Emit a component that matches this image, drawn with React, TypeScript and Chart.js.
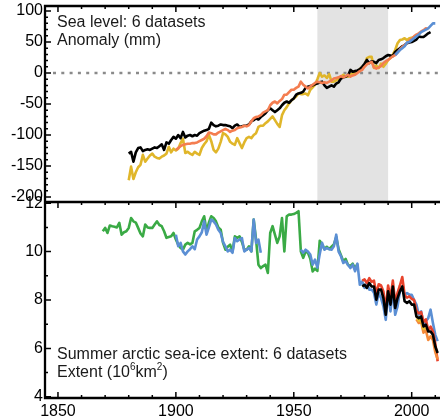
import React, { useEffect, useRef } from 'react';
import { Chart, registerables } from 'chart.js';

Chart.register(...registerables);

// ---------------- data ----------------
const yearTicks = [1850, 1900, 1950, 2000];
const seaLevelTicks = [-200, -150, -100, -50, 0, 50, 100];
const iceTicks = [4, 6, 8, 10, 12];
const referencePeriod = [1960, 1990];

const seaTitle = 'Sea level: 6 datasets';
const seaUnit = 'Anomaly (mm)';
const iceTitle = 'Summer arctic sea-ice extent: 6 datasets';
const iceUnitParts = [
  { t: 'Extent (10', sup: false },
  { t: '6', sup: true },
  { t: 'km', sup: false },
  { t: '2', sup: true },
  { t: ')', sup: false },
];

const seaBlackStart = 1880;
const seaBlack = [
  -130, -127, -143, -128, -121, -120, -126, -124, -123, -124,
  -122, -120, -121, -118, -115, -124, -112, -114, -108, -103,
  -106, -100, -105, -95, -104, -101, -100, -102, -100, -101,
  -97, -95, -93, -92, -90, -80, -84, -86, -85, -83,
  -84, -84, -85, -86, -89, -85, -83, -87, -86, -85,
  -85, -83, -78, -76, -73, -75, -71, -68, -65, -60,
  -57, -60, -63, -60, -57, -52, -48, -46, -48, -44,
  -41, -35, -33, -32, -30, -24, -22, -21, -20, -18,
  -17, -15, -14, -20, -24, -22, -20, -22, -17, -15,
  -9, -7, -6, -4, 5, 2, 3, 4, 6, 10,
  15, 21, 16, 19, 18, 16, 21, 22, 24, 27,
  29, 28, 27, 34, 37, 40, 43, 45, 48, 49,
  50, 52, 54, 59, 58, 58, 61, 64, 66,
];

const seaYellowStart = 1880;
const seaYellow = [
  -173, -151, -171, -160, -152, -148, -132, -143, -138, -133,
  -130, -135, -137, -138, -135, -133, -130, -119, -128, -122,
  -125, -122, -113, -106, -129, -127, -130, -132, -127, -130,
  -132, -121, -115, -110, -100, -110, -124, -128, -122, -111,
  -97, -99, -103, -111, -114, -116, -105, -113, -121, -112,
  -105, -103, -105, -100, -97, -87, -85, -85, -81, -78,
  -74, -70, -76, -82, -87, -68, -60, -55, -49, -44,
  -41, -38, -33, -34, -34, -33, -36, -27, -23, -19,
  -10, 0, -6, -4, -8, -2, -14, -14, -12, -9,
  -6, -3, -6, -6, -3, 0, 0, 2, 6, 10,
  12, 24, 26, 26, 8, 12, 8, 15, 10, 15,
  21, 24, 30, 37, 48, 53, 54, 56, 53, 56,
  57, 58,
];

const seaOrangeStart = 1900;
const seaOrange = [
  -124, -121, -118, -116, -115, -114, -114, -113, -113, -112,
  -110, -108, -106, -102, -96, -97, -99, -99, -96, -94,
  -92, -90, -92, -95, -93, -92, -89, -88, -87, -85,
  -86, -84, -78, -73, -71, -70, -68, -64, -62, -60,
  -52, -48, -46, -49, -45, -42, -35, -35, -31, -27,
  -27, -24, -22, -14, -19, -22, -25, -22, -19, -16,
  -14, -15, -16, -15, -16, -14, -12, -9, -8, -7,
  -5, -7, -5, -3, -6, -4, -3, 0, 3, 5,
  10, 14, 16, 18, 9, 7, 9, 11, 16, 19,
  21, 24, 27, 29, 33, 38, 42, 45, 48, 52,
  55, 59, 62, 64, 67, 69, 72, 71,
];

const seaBlueStart = 1993;
const seaBlue = [29, 33, 37, 40, 43, 49, 50, 53, 56, 59, 62, 66, 68, 70, 72, 76, 80, 80];

const iceGreenStart = 1869;
const iceGreen = [
  10.84, 10.98, 10.77, 11.08, 11.05, 11.03, 11.0, 11.19, 10.7, 10.8,
  10.84, 10.98, 11.39, 11.25, 11.2, 10.98, 10.75, 10.63, 11.12, 11.0,
  10.98, 10.98, 11.12, 11.25, 11.1, 11.05, 10.84, 10.57, 10.6, 10.63,
  10.77, 10.5, 10.29, 10.15, 10.08, 10.29, 10.36, 10.3, 10.36, 10.84,
  10.9, 10.98, 11.25, 11.46, 10.84, 11.2, 11.46, 11.39, 11.25, 11.0,
  10.91, 10.36, 10.08, 10.2, 10.29, 10.0, 10.63, 10.57, 10.63, 10.4,
  10.08, 10.08, 10.22, 10.01, 11.32, 10.5, 9.46, 9.32, 9.4, 9.46,
  9.12, 10.77, 11.05, 10.7, 10.36, 10.63, 11.39, 10.01, 11.46, 11.53,
  11.53, 11.55, 11.6, 11.67, 10.0, 9.74, 10.0, 9.95, 9.7, 9.18,
  9.3, 9.2, 10.45, 10.3, 10.1, 10.2, 10.1, 10.2, 10.3, 10.6,
  10.1, 9.85, 9.6, 9.7, 9.45, 9.4, 9.5, 9.3, 9.5,
];

const iceBlueStart = 1900;
const iceBlue = [
  10.7, 10.22, 10.36, 10.01, 9.88, 10.01, 10.1, 10.22, 10.1, 10.5,
  10.63, 10.8, 11.25, 10.7, 11.0, 11.32, 11.25, 11.12, 10.9, 10.77,
  10.4, 10.22, 10.01, 10.08, 9.95, 10.56, 10.43, 10.5, 10.56, 10.01,
  10.08, 10.15, 10.01, 11.32, 10.36, 10.5, 9.95,
  null, null, null, null, null, null, null, null, null, null, null, null, null, null, null, null,
  10.08, 9.95, 10.08, 10.0, 9.88, 9.46, 9.67, 9.34, 9.9, 10.36,
  10.08, 10.15, 10.1, 10.08, 10.22, 10.7, 10.0, 9.81, 9.53, 9.6,
  9.45, 9.32, 9.46, 9.19, 9.5, 8.63, 8.77, 8.5, 8.7, 8.43,
  8.43, 8.3, 7.81, 8.29, 8.08, 7.74, 7.18, 8.36, 7.53, 8.43,
  7.39, 7.74, 8.36, 8.43, 8.22, 8.29, 8.22, 8.22, 8.0, 7.81,
  7.39, 7.53, 6.98, 7.12, 7.25, 7.6, 7.05, 6.56, 6.3,
];

const iceRedStart = 1979;
const iceRed = [
  8.8, 8.85, 8.7, 8.9, 8.75, 8.8, 8.25, 8.65, 8.6, 8.35,
  7.6, 8.6, 8.05, 8.8, 7.9, 8.3, 8.6, 8.95, 8.2, 8.1,
  8.15, 8.05, 8.0, 7.55, 7.45, 7.5, 7.1, 7.2, 6.75, 6.9,
  6.7, 6.2, 5.47,
];

const iceBlackStart = 1979;
const iceBlack = [
  8.56, 8.63, 8.5, 8.7, 8.56, 8.56, 8.01, 8.43, 8.43, 8.08,
  7.39, 8.36, 7.81, 8.56, 7.67, 8.08, 8.36, 8.56, 7.95, 7.88,
  7.95, 7.81, 7.81, 7.32, 7.25, 7.32, 6.91, 6.98, 6.7, 6.7,
  6.56, 6.08, 5.81,
];

const iceOrangeStart = 2002;
const iceOrange = [7.2, 7.05, 7.1, 6.65, 6.75, 6.35, 6.5, 6.35, 5.85, 5.55];

const iceYellowStart = 2002;
const iceYellow = [7.35, 7.15, 7.2, 6.8, 6.85];

// ---------------- styling ----------------
const FAMILY = '"Liberation Sans", Arial, Helvetica, sans-serif';
const FONT = { family: FAMILY, size: 16 };
const TEXT = '#1a1a1a';

const series = (
  label: string,
  start: number,
  values: (number | null)[],
  color: string,
  axis: string,
  width = 2.6,
) => ({
  label,
  data: values.map((v, i) => ({ x: start + i, y: v })),
  borderColor: color,
  backgroundColor: color,
  borderWidth: width,
  pointRadius: 0,
  tension: 0,
  spanGaps: false,
  fill: false,
  xAxisID: 'x',
  yAxisID: axis,
  borderJoinStyle: 'round' as const,
});

const fixTicks = (values: number[]) => (scale: any) => {
  scale.ticks = values.map((v) => ({ value: v }));
};

const fitBox = (w: number | null, h: number | null) => (scale: any) => {
  if (w !== null) scale.width = w;
  if (h !== null) scale.height = h;
  scale.paddingTop = 0;
  scale.paddingBottom = 0;
  scale.paddingLeft = 0;
  scale.paddingRight = 0;
};

const framePlugin = {
  id: 'frame',
  beforeDatasetsDraw(chart: any) {
    const { ctx, chartArea, scales } = chart;
    const x = scales.x;
    const ys = scales.ySea;
    ctx.save();
    const x0 = x.getPixelForValue(referencePeriod[0]);
    const x1 = x.getPixelForValue(referencePeriod[1]);
    ctx.fillStyle = '#e3e3e3';
    ctx.fillRect(x0, ys.top, x1 - x0, ys.bottom - ys.top);
    const yz = ys.getPixelForValue(0);
    ctx.strokeStyle = '#8a8a8a';
    ctx.lineWidth = 2.5;
    ctx.setLineDash([3, 5.3]);
    ctx.beginPath();
    ctx.moveTo(chartArea.left + 8, yz);
    ctx.lineTo(chartArea.right, yz);
    ctx.stroke();
    ctx.restore();
  },
  afterDatasetsDraw(chart: any) {
    const { ctx, chartArea, scales } = chart;
    const x = scales.x;
    const ys = scales.ySea;
    const yi = scales.yIce;
    const { left, right, top, bottom } = chartArea;
    const mid = ys.bottom;
    ctx.save();
    ctx.strokeStyle = '#000';
    // inward tick marks
    ctx.lineWidth = 1.5;
    ctx.beginPath();
    for (let yr = 1850; yr <= 2010; yr += 10) {
      const px = x.getPixelForValue(yr);
      const len = yr % 50 === 0 ? 6 : 3;
      ctx.moveTo(px, top); ctx.lineTo(px, top + len);
      ctx.moveTo(px, mid); ctx.lineTo(px, mid + len);
      ctx.moveTo(px, bottom); ctx.lineTo(px, bottom - len);
    }
    for (let v = -200; v <= 100; v += 10) {
      const py = ys.getPixelForValue(v);
      const len = v % 50 === 0 ? 6 : 3;
      ctx.moveTo(left, py); ctx.lineTo(left + len, py);
    }
    for (let v = 4; v <= 12; v += 1) {
      const py = yi.getPixelForValue(v);
      const len = v % 2 === 0 ? 6 : 3;
      ctx.moveTo(left, py); ctx.lineTo(left + len, py);
    }
    ctx.stroke();
    // frame
    ctx.lineWidth = 2.3;
    ctx.beginPath();
    ctx.moveTo(right, top); ctx.lineTo(left, top); ctx.lineTo(left, bottom); ctx.lineTo(right, bottom);
    ctx.moveTo(left, mid); ctx.lineTo(right, mid);
    ctx.stroke();
    // panel annotations
    ctx.fillStyle = TEXT;
    ctx.textBaseline = 'alphabetic';
    ctx.textAlign = 'left';
    ctx.font = `16px ${FAMILY}`;
    const tx = left + 12;
    ctx.fillText(seaTitle, tx, top + 20.5);
    ctx.fillText(seaUnit, tx, top + 39);
    ctx.fillText(iceTitle, tx, bottom - 39.5);
    let cx = tx;
    for (const p of iceUnitParts) {
      ctx.font = p.sup ? `10px ${FAMILY}` : `16px ${FAMILY}`;
      ctx.fillText(p.t, cx, p.sup ? bottom - 28 : bottom - 21.5);
      cx += ctx.measureText(p.t).width;
    }
    ctx.restore();
  },
};

export default function App() {
  const ref = useRef<HTMLCanvasElement>(null);

  useEffect(() => {
    const canvas = ref.current;
    if (!canvas) return;
    const chart = new Chart(canvas, {
      type: 'line',
      data: {
        datasets: [
          series('Sea level (satellite)', seaBlueStart, seaBlue, '#5b8fd4', 'ySea'),
          series('Sea level B', seaOrangeStart, seaOrange, '#f47d50', 'ySea'),
          series('Sea level A', seaBlackStart, seaBlack, '#000000', 'ySea'),
          series('Sea level C', seaYellowStart, seaYellow, '#e0b62a', 'ySea'),
          series('Ice extent A', iceBlackStart, iceBlack, '#000000', 'yIce'),
          series('Ice extent D', iceYellowStart, iceYellow, '#e8c030', 'yIce'),
          series('Ice extent E', iceOrangeStart, iceOrange, '#f58a3a', 'yIce'),
          series('Ice extent B', iceRedStart, iceRed, '#e8432c', 'yIce'),
          series('Ice extent C', iceBlueStart, iceBlue, '#5b8fd4', 'yIce'),
          series('Ice extent F', iceGreenStart, iceGreen, '#3aaa45', 'yIce'),
        ] as any,
      },
      options: {
        animation: false,
        responsive: false,
        maintainAspectRatio: false,
        events: [],
        layout: { padding: { top: 6, right: 0, bottom: 0, left: 0 } },
        plugins: {
          legend: { display: false },
          tooltip: { enabled: false },
          title: { display: false },
        },
        scales: {
          x: {
            type: 'linear',
            position: 'bottom',
            min: 1844.5,
            max: 2012,
            grid: { display: false, drawTicks: false },
            border: { display: false },
            afterBuildTicks: fixTicks(yearTicks),
            afterFit: fitBox(null, 19),
            ticks: {
              font: FONT,
              color: '#000',
              padding: 4,
              maxRotation: 0,
              autoSkip: false,
              callback: (v: any) => String(v),
            },
          },
          ySea: {
            type: 'linear',
            position: 'left',
            stack: 'panels',
            stackWeight: 1,
            weight: 2,
            min: -208,
            max: 108,
            grid: { display: false, drawTicks: false },
            border: { display: false },
            afterBuildTicks: fixTicks(seaLevelTicks),
            afterFit: fitBox(45, null),
            ticks: {
              font: FONT,
              color: '#000',
              padding: 2,
              autoSkip: false,
              callback: (v: any) => String(v),
            },
          },
          yIce: {
            type: 'linear',
            position: 'left',
            stack: 'panels',
            stackWeight: 1,
            weight: 1,
            min: 3.95,
            max: 12.05,
            grid: { display: false, drawTicks: false },
            border: { display: false },
            afterBuildTicks: fixTicks(iceTicks),
            afterFit: fitBox(45, null),
            ticks: {
              font: FONT,
              color: '#000',
              padding: 2,
              autoSkip: false,
              callback: (v: any) => String(v),
            },
          },
        },
      } as any,
      plugins: [framePlugin],
    });
    return () => chart.destroy();
  }, []);

  return (
    <div style={{ position: 'absolute', left: 0, top: 0, width: 440, height: 417, background: '#fff' }}>
      <canvas ref={ref} width={440} height={417} style={{ display: 'block' }} />
    </div>
  );
}
